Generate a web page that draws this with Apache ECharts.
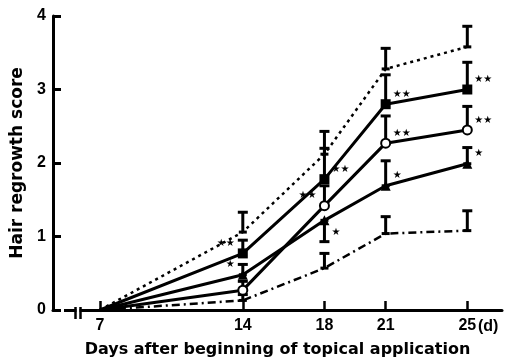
<!DOCTYPE html>
<html>
<head>
<meta charset="utf-8">
<script src="https://cdn.jsdelivr.net/npm/echarts@6/dist/echarts.min.js"></script>
<style>
  html, body { margin: 0; padding: 0; background: #fff; }
  #chart { width: 505px; height: 363px; }
</style>
</head>
<body>
<div id="chart"></div>
<script>
// days after start, and mean scores / error bar lengths per group
const days = [7, 14, 18, 21, 25];
const dayLabels = ['7', '14', '18', '21', '25'];

const dottedScore = [0, 1.06, 2.12, 3.28, 3.58];
const dottedErr = [0, 0.27, 0.31, 0.28, 0.28];

const squareScore = [0, 0.77, 1.78, 2.8, 3.0];
const squareErr = [0, 0.18, 0.42, 0.4, 0.37];
const squareStars = ['', '**', '**', '**', '**'];

const circleScore = [0, 0.27, 1.42, 2.27, 2.45];
const circleErr = [0, 0.12, 0.27, 0.37, 0.32];
const circleStars = ['', '', '**', '**', '**'];

const triangleScore = [0, 0.48, 1.22, 1.69, 1.99];
const triangleErr = [0, 0.14, -0.29, 0.34, 0.22]; // negative = bar drawn downward
const triangleStars = ['', '*', '*', '*', '*'];

const dashDotScore = [0, 0.13, 0.57, 1.04, 1.08];
const dashDotErr = [0, 0.08, 0.2, 0.23, 0.27];

const FONT = 'Liberation Sans, Arial, Helvetica, sans-serif';
const TITLE_FONT = 'DejaVu Sans, Liberation Sans, sans-serif';

const chart = echarts.init(document.getElementById('chart'));

function lineData(scores) {
    return days.map((d, i) => i === 0 ? { value: [d, scores[i]], symbol: 'none' } : [d, scores[i]]);
}

function errData(scores, errs) {
    return days.map((d, i) => [d, scores[i], errs[i], i]);
}

// error bar ("I" shape) + significance stars
function errorBars(scores, errs, stars, starSide) {
    return {
        type: 'custom',
        z: 1,
        silent: true,
        data: errData(scores, errs),
        renderItem: function (params, api) {
            const e = api.value(2);
            const idx = api.value(3);
            const children = [];
            const p0 = api.coord([api.value(0), api.value(1)]);
            if (e !== 0) {
                const p1 = api.coord([api.value(0), api.value(1) + e]);
                const st = { stroke: '#000', lineWidth: 3 };
                children.push({ type: 'line', shape: { x1: p0[0], y1: p0[1], x2: p1[0], y2: p1[1] }, style: st });
                children.push({ type: 'line', shape: { x1: p1[0] - 5, y1: p1[1], x2: p1[0] + 5, y2: p1[1] }, style: st });
                children.push({ type: 'line', shape: { x1: p0[0] - 4, y1: p0[1], x2: p0[0] + 4, y2: p0[1] }, style: st });
            }
            if (stars && stars[idx]) {
                const side = starSide[idx];
                const n = stars[idx].length;
                const txt = n === 2 ? '\u2605\u2605' : '\u2605';
                let x = side === 'left' ? p0[0] - 8 : p0[0] + 7;
                let y = e < 0 ? p0[1] + 12 : p0[1] - 10;
                children.push({
                    type: 'text',
                    style: {
                        text: txt, x: x, y: y,
                        align: side === 'left' ? 'right' : 'left',
                        verticalAlign: 'middle',
                        font: '10px DejaVu Sans', fill: '#000'
                    }
                });
            }
            return { type: 'group', children: children };
        }
    };
}

const option = {
    backgroundColor: '#fff',
    animation: false,
    grid: { left: 53, right: 3, top: 16, bottom: 50 },
    xAxis: {
        type: 'value',
        min: 4.7,
        max: 26.7,
        name: 'Days after beginning of topical application',
        nameLocation: 'middle',
        nameGap: 32,
        nameTextStyle: { fontFamily: TITLE_FONT, fontSize: 16, fontWeight: 'bold', color: '#000' },
        splitLine: { show: false },
        axisLine: { lineStyle: { color: '#000', width: 3 } },
        axisTick: { inside: true, length: 9, customValues: days, lineStyle: { color: '#000', width: 2.5 } },
        axisLabel: {
            customValues: days,
            formatter: v => dayLabels[days.indexOf(v)],
            margin: 8,
            fontFamily: FONT, fontSize: 16, fontWeight: 'bold', color: '#000'
        }
    },
    yAxis: {
        type: 'value',
        min: 0,
        max: 4,
        interval: 1,
        name: 'Hair regrowth score',
        nameLocation: 'middle',
        nameGap: 20,
        nameTextStyle: { fontFamily: TITLE_FONT, fontSize: 17, fontWeight: 'bold', color: '#000' },
        splitLine: { show: false },
        axisLine: { show: true, lineStyle: { color: '#000', width: 3 } },
        axisTick: { show: true, inside: true, length: 8, lineStyle: { color: '#000', width: 3 } },
        axisLabel: { margin: 7, fontFamily: FONT, fontSize: 16, fontWeight: 'bold', color: '#000' }
    },
    graphic: [
        // gap between y axis and x axis, and the axis break
        { type: 'rect', shape: { x: 61, y: 308, width: 3, height: 10 }, style: { fill: '#fff' }, z: 100 },
        { type: 'rect', shape: { x: 76.5, y: 308, width: 3, height: 10 }, style: { fill: '#fff' }, z: 100 },
        { type: 'line', shape: { x1: 75.5, y1: 307, x2: 75.5, y2: 319 }, style: { stroke: '#000', lineWidth: 2.5 }, z: 101 },
        { type: 'line', shape: { x1: 80.5, y1: 307, x2: 80.5, y2: 319 }, style: { stroke: '#000', lineWidth: 2.5 }, z: 101 },
        {
            type: 'text', x: 478, y: 327,
            style: { text: '(d)', font: 'bold 16px ' + FONT, fill: '#000', verticalAlign: 'middle' }
        }
    ],
    series: [
        {
            type: 'line', data: lineData(dottedScore), symbol: 'none', z: 2,
            lineStyle: { color: '#000', width: 2.5, type: [3, 4] }
        },
        errorBars(dottedScore, dottedErr),
        {
            type: 'line', data: lineData(squareScore), symbol: 'rect', symbolSize: 10, z: 3,
            itemStyle: { color: '#000' },
            lineStyle: { color: '#000', width: 3 }
        },
        errorBars(squareScore, squareErr, squareStars, ['', 'left', 'right', 'right', 'right']),
        {
            type: 'line', data: lineData(circleScore), symbol: 'circle', symbolSize: 9, z: 3,
            itemStyle: { color: '#fff', borderColor: '#000', borderWidth: 2 },
            lineStyle: { color: '#000', width: 3 }
        },
        errorBars(circleScore, circleErr, circleStars, ['', '', 'left', 'right', 'right']),
        {
            type: 'line', data: lineData(triangleScore), symbol: 'triangle', symbolSize: 10, z: 3,
            itemStyle: { color: '#000' },
            lineStyle: { color: '#000', width: 3 }
        },
        errorBars(triangleScore, triangleErr, triangleStars, ['', 'left', 'right', 'right', 'right']),
        {
            type: 'line', data: lineData(dashDotScore), symbol: 'none', z: 2,
            lineStyle: { color: '#000', width: 2.5, type: [8, 4, 2, 4] }
        },
        errorBars(dashDotScore, dashDotErr)
    ]
};

chart.setOption(option);
</script>
</body>
</html>
